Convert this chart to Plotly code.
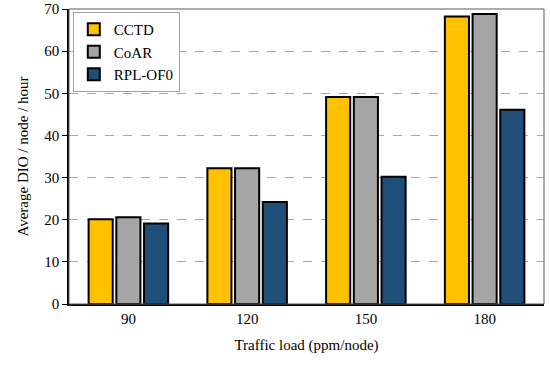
import plotly.graph_objects as go

categories = ["90", "120", "150", "180"]
cctd = [20.1, 32.2, 49.1, 68.2]
coar = [20.6, 32.2, 49.1, 68.8]
rpl_of0 = [19.1, 24.2, 30.2, 46.1]
series_names = ["CCTD", "CoAR", "RPL-OF0"]
colors = ["#FFC000", "#A5A5A5", "#1F4E79"]

fig = go.Figure()
for name, vals, col in zip(series_names, [cctd, coar, rpl_of0], colors):
    fig.add_trace(go.Bar(
        x=categories, y=vals, name=name,
        marker=dict(color=col, line=dict(color="#000000", width=2)),
    ))

font_family = "Liberation Serif"
fig.update_layout(
    width=550, height=366,
    margin=dict(l=69, r=6, t=9, b=62, autoexpand=False),
    paper_bgcolor="white", plot_bgcolor="white",
    barmode="group", bargap=0.3, bargroupgap=0.13,
    font=dict(family=font_family, size=14, color="#000000"),
    showlegend=True,
    legend=dict(
        x=0.008, y=0.99, xanchor="left", yanchor="top",
        bordercolor="#A0A0A0", borderwidth=1, bgcolor="white",
        font=dict(family=font_family, size=15, color="#000000"),
        tracegroupgap=0, itemwidth=30,
    ),
    xaxis=dict(
        title=dict(text="Traffic load (ppm/node)", font=dict(size=15), standoff=14),
        showline=True, linecolor="#000000", linewidth=1.5,
        ticks="", showgrid=False,
        tickfont=dict(size=15),
        automargin=False,
    ),
    yaxis=dict(
        title=dict(text="Average DIO / node / hour", font=dict(size=15), standoff=12),
        range=[0, 70], dtick=10,
        showline=True, linecolor="#000000", linewidth=1.5,
        ticks="outside", ticklen=5, tickcolor="#000000",
        showgrid=True, gridcolor="#A6A6A6", griddash="dash", gridwidth=1,
        tickfont=dict(size=15),
        zeroline=False,
        automargin=False,
    ),
)
fig.add_shape(type="rect", xref="paper", yref="paper", x0=0, y0=0, x1=1, y1=1,
              line=dict(color="#595959", width=1), layer="above")
fig.write_html("out.html", config={"displayModeBar": False},
               post_script="document.body.style.margin='0';")
